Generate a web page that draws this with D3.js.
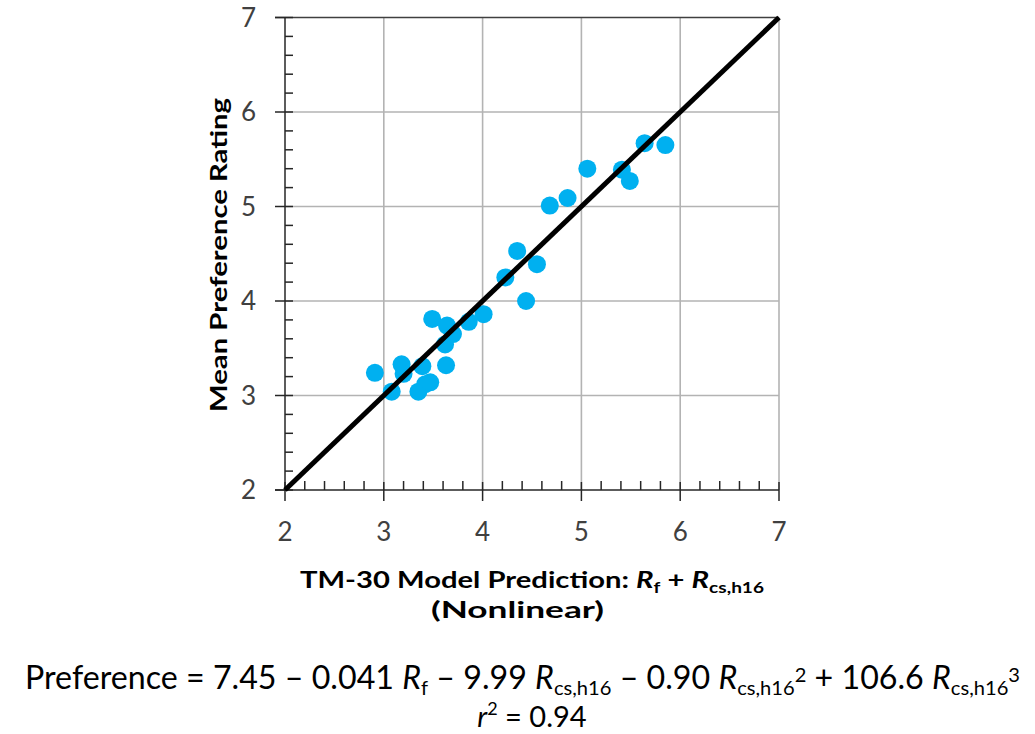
<!DOCTYPE html>
<html><head><meta charset="utf-8">
<script src="https://cdn.jsdelivr.net/npm/d3@7"></script>
<style>body{margin:0;background:#fff}svg{display:block}text{font-family:Lato,"Open Sans",sans-serif}</style>
</head><body>
<script>
const xPred = [2.91,3.08,3.18,3.20,3.39,3.35,3.42,3.47,3.49,3.62,3.63,3.64,3.70,3.86,4.01,4.23,4.35,4.44,4.55,4.68,4.86,5.06,5.41,5.49,5.64,5.85];
const yRating = [3.24,3.04,3.33,3.23,3.31,3.04,3.12,3.14,3.81,3.54,3.32,3.74,3.65,3.78,3.86,4.25,4.53,4.00,4.39,5.01,5.09,5.40,5.39,5.27,5.67,5.65];
const tickValues = [2,3,4,5,6,7];
const fitLine = [[2,2],[7,7]];

const W=1035,H=734;
const svg=d3.select("body").append("svg").attr("width",W).attr("height",H);
const x=d3.scaleLinear().domain([2,7]).range([285,779]);
const y=d3.scaleLinear().domain([2,7]).range([490,17.5]);
const minor=d3.range(2,7.001,0.2).filter(v=>Math.abs(v-Math.round(v))>1e-6);

// grid
svg.append("g").selectAll("line").data(tickValues.slice(1)).join("line")
 .attr("x1",d=>x(d)).attr("x2",d=>x(d)).attr("y1",y(7)).attr("y2",y(2))
 .attr("stroke","#b3b3b3").attr("stroke-width",1.6);
svg.append("g").selectAll("line").data(tickValues.slice(1,-1)).join("line")
 .attr("y1",d=>y(d)).attr("y2",d=>y(d)).attr("x1",x(2)).attr("x2",x(7))
 .attr("stroke","#b3b3b3").attr("stroke-width",1.6);
// top border
svg.append("line").attr("x1",x(2)-10).attr("x2",x(7)).attr("y1",y(7)).attr("y2",y(7)).attr("stroke","#404040").attr("stroke-width",1.5);

// axes
const ax=svg.append("g").attr("stroke","#262626").attr("stroke-width",1.5);
ax.append("line").attr("x1",x(2)).attr("x2",x(2)).attr("y1",y(7)).attr("y2",y(2));
ax.append("line").attr("x1",x(2)-10).attr("x2",x(7)).attr("y1",y(2)).attr("y2",y(2));
ax.selectAll(".ymaj").data(tickValues).join("line").attr("class","ymaj").attr("x1",x(2)-10).attr("x2",x(2)+8).attr("y1",d=>y(d)).attr("y2",d=>y(d));
ax.selectAll(".ymin").data(minor).join("line").attr("class","ymin").attr("x1",x(2)).attr("x2",x(2)+8).attr("y1",d=>y(d)).attr("y2",d=>y(d));
ax.selectAll(".xmaj").data(tickValues).join("line").attr("class","xmaj").attr("y1",y(2)-8).attr("y2",y(2)+11).attr("x1",d=>x(d)).attr("x2",d=>x(d));
ax.selectAll(".xmin").data(minor).join("line").attr("class","xmin").attr("y1",y(2)-9).attr("y2",y(2)).attr("x1",d=>x(d)).attr("x2",d=>x(d));

// tick labels
svg.append("g").selectAll("text").data(tickValues).join("text")
 .attr("x",x(2)-29).attr("y",d=>y(d)).attr("dy","0.36em").attr("text-anchor","end")
 .attr("font-size",26).attr("fill","#404040").text(d=>d);
svg.append("g").selectAll("text").data(tickValues).join("text")
 .attr("x",d=>x(d)).attr("y",y(2)+51).attr("text-anchor","middle")
 .attr("font-size",26).attr("fill","#404040").text(d=>d);

// points
svg.append("g").selectAll("circle").data(xPred.map((v,i)=>[v,yRating[i]])).join("circle")
 .attr("cx",d=>x(d[0])).attr("cy",d=>y(d[1])).attr("r",9).attr("fill","#00B0F0");

// fit line
svg.append("path").datum(fitLine).attr("d",d3.line().x(d=>x(d[0])).y(d=>y(d[1])))
 .attr("stroke","#000").attr("stroke-width",5).attr("fill","none");

// y title
svg.append("text").attr("transform",`translate(227,255) rotate(-90)`)
 .attr("text-anchor","middle").attr("font-size",23).attr("font-weight","bold")
 .attr("textLength",314).attr("lengthAdjust","spacingAndGlyphs").text("Mean Preference Rating");

// x title
const xt=svg.append("text").attr("x",300).attr("y",588).attr("font-size",23).attr("font-weight","bold")
 .attr("textLength",464).attr("lengthAdjust","spacingAndGlyphs");
xt.append("tspan").text("TM-30 Model Prediction: ");
xt.append("tspan").attr("font-style","italic").text("R");
xt.append("tspan").attr("font-size",15).attr("dy",5).text("f");
xt.append("tspan").attr("dy",-5).text(" + ");
xt.append("tspan").attr("font-style","italic").text("R");
xt.append("tspan").attr("font-size",15).attr("dy",5).text("cs,h16");
svg.append("text").attr("x",431).attr("y",618).attr("font-size",23).attr("font-weight","bold")
 .attr("textLength",173).attr("lengthAdjust","spacingAndGlyphs").text("(Nonlinear)");

// formula
const f=svg.append("text").attr("x",25).attr("y",689).attr("font-size",32).attr("fill","#000")
 .attr("textLength",995).attr("lengthAdjust","spacingAndGlyphs");
function R(sub,sup){
  f.append("tspan").attr("font-style","italic").text("R");
  f.append("tspan").attr("font-size",20).attr("dy",6).text(sub);
  if(sup){f.append("tspan").attr("font-size",20).attr("dy",-13).text(sup);f.append("tspan").attr("dy",7).text(" ");}
  else f.append("tspan").attr("dy",-6).text(" ");
}
f.append("tspan").text("Preference =  7.45 – 0.041 ");
R("f");
f.append("tspan").text("– 9.99 ");
R("cs,h16");
f.append("tspan").text("– 0.90 ");
R("cs,h16","2");
f.append("tspan").text("+ 106.6 ");
R("cs,h16","3");
const r2=svg.append("text").attr("x",532).attr("y",727).attr("text-anchor","middle").attr("font-size",29);
r2.append("tspan").attr("font-style","italic").text("r");
r2.append("tspan").attr("font-size",18).attr("dy",-12).text("2");
r2.append("tspan").attr("dy",12).text(" = 0.94");
</script>
</body></html>
